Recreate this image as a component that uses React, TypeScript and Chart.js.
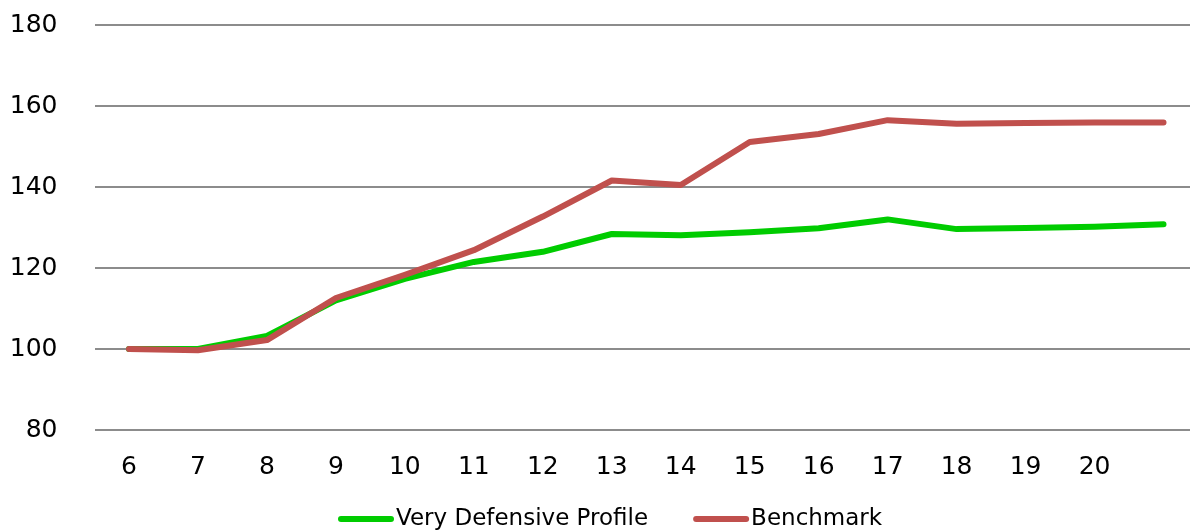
import React, { useEffect, useRef } from "react";
import { Chart, registerables } from "chart.js";

Chart.register(...registerables);

const categories = ["6", "7", "8", "9", "10", "11", "12", "13", "14", "15", "16", "17", "18", "19", "20", ""];
const defensiveProfile = [100, 100, 103.2, 112.0, 117.3, 121.5, 124.0, 128.4, 128.1, 128.8, 129.8, 132.0, 129.6, 129.9, 130.2, 130.8];
const benchmark = [100, 99.7, 102.2, 112.6, 118.3, 124.4, 132.7, 141.6, 140.5, 151.1, 153.1, 156.5, 155.6, 155.8, 155.9, 155.9];
const seriesNames = ["Very Defensive Profile", "Benchmark"];
const yTicks = [80, 100, 120, 140, 160, 180];

const FONT = '"DejaVu Sans", Verdana, sans-serif';

const legendPlugin = {
  id: "customLegend",
  afterDraw(chart: any) {
    const ctx = chart.ctx;
    ctx.save();
    ctx.font = `23px ${FONT}`;
    ctx.textBaseline = "middle";
    ctx.textAlign = "left";
    const y = 519;
    let x = 341;
    const lineLen = 50;
    chart.data.datasets.forEach((ds: any) => {
      ctx.beginPath();
      ctx.lineCap = "round";
      ctx.lineWidth = 6;
      ctx.strokeStyle = ds.borderColor;
      ctx.moveTo(x, y);
      ctx.lineTo(x + lineLen, y);
      ctx.stroke();
      const tx = x + lineLen + 5;
      ctx.fillStyle = "#000000";
      ctx.fillText(ds.label, tx, y);
      x = tx + ctx.measureText(ds.label).width + 48;
    });
    ctx.restore();
  },
};

export default function App() {
  const ref = useRef<HTMLCanvasElement | null>(null);
  useEffect(() => {
    if (!ref.current) return;
    const chart = new Chart(ref.current, {
      type: "line",
      data: {
        labels: categories,
        datasets: [
          {
            label: seriesNames[0],
            data: defensiveProfile,
            borderColor: "#00CC00",
            backgroundColor: "#00CC00",
            borderWidth: 6,
            pointRadius: 0,
            tension: 0,
            borderCapStyle: "round",
            borderJoinStyle: "round",
            order: 1,
          },
          {
            label: seriesNames[1],
            data: benchmark,
            borderColor: "#C0504D",
            backgroundColor: "#C0504D",
            borderWidth: 6,
            pointRadius: 0,
            tension: 0,
            borderCapStyle: "round",
            borderJoinStyle: "round",
            order: 0,
          },
        ],
      },
      options: {
        responsive: false,
        animation: false,
        layout: { padding: { top: 25, right: 0, bottom: 0, left: 0 } },
        plugins: {
          legend: { display: false },
          tooltip: { enabled: false },
        },
        scales: {
          x: {
            type: "category",
            offset: true,
            grid: { display: false, drawTicks: false },
            border: { display: false },
            ticks: {
              color: "#000000",
              font: { family: FONT, size: 25 },
              padding: 22,
              maxRotation: 0,
              autoSkip: false,
            },
            afterFit(scale: any) {
              scale.height = 101;
            },
          },
          y: {
            min: yTicks[0],
            max: yTicks[yTicks.length - 1],
            afterBuildTicks(scale: any) {
              scale.ticks = yTicks.map((v) => ({ value: v }));
            },
            grid: { color: "#8c8c8c", lineWidth: 2, drawTicks: false },
            border: { display: false },
            ticks: {
              color: "#000000",
              font: { family: FONT, size: 25 },
              padding: 37,
            },
            afterFit(scale: any) {
              scale.width = 94.5;
              scale.paddingTop = 0;
              scale.paddingBottom = 0;
            },
          },
        },
      },
      plugins: [legendPlugin],
    });
    return () => chart.destroy();
  }, []);
  return (
    <div style={{ position: "absolute", left: 0, top: 0, width: 1190, height: 531, overflow: "hidden", background: "#fff" }}>
      <canvas ref={ref} width={1198} height={531} style={{ display: "block" }} />
    </div>
  );
}
